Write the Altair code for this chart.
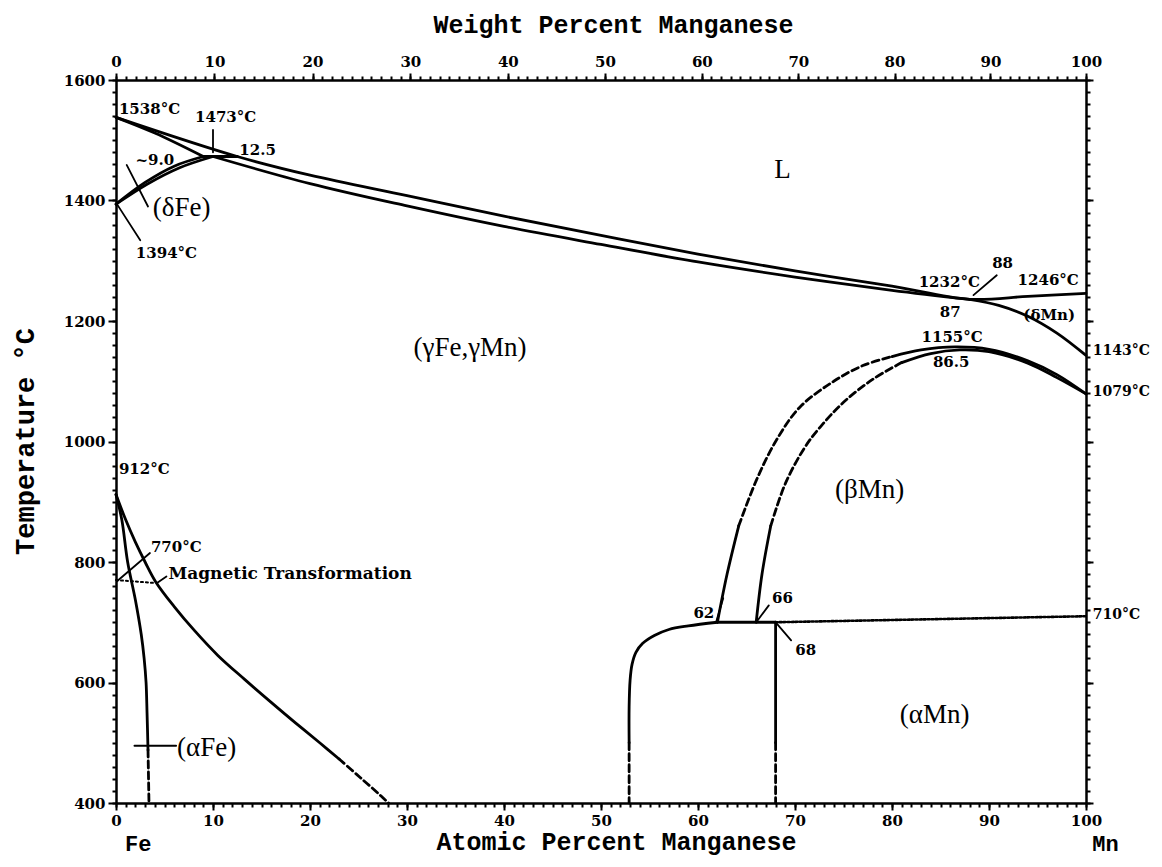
import altair as alt
import pandas as pd

# ---------------- curve data (atomic % Mn, temperature in °C) ----------------
liquidus_x = [0, 12.5, 20, 30, 40, 50, 60, 70, 80, 88, 94, 100]
liquidus_t = [1538, 1473, 1442, 1408, 1374, 1342, 1311, 1283, 1258, 1236, 1241, 1246]
delta_solidus_x = [0, 4, 9]
delta_solidus_t = [1538, 1512, 1473]
gamma_solidus_x = [10, 20, 30, 40, 50, 60, 70, 80, 88]
gamma_solidus_t = [1473, 1428, 1391, 1357, 1327, 1298, 1273, 1251, 1236]
peritectic_x = [9, 12.5]
peritectic_t = [1473, 1473]
delta_side_x = [0, 3, 6, 9]
delta_side_t = [1394, 1430, 1457, 1473]
gamma_side_x = [0, 3.2, 6.5, 10]
gamma_side_t = [1394, 1427, 1454, 1473]
gamma_deltamn_x = [88, 91, 94, 97, 100]
gamma_deltamn_t = [1236, 1226, 1208, 1180, 1143]

# beta-Mn dome
outer_low_x = [62, 63, 64.2]
outer_low_t = [700, 780, 860]
outer_dash_x = [64.2, 66, 68, 70.5, 74, 77, 80]
outer_dash_t = [860, 935, 1000, 1057, 1100, 1126, 1141]
outer_top_x = [80, 83, 86.5, 90, 94, 97, 100]
outer_top_t = [1141, 1152, 1157, 1153, 1134, 1111, 1079]
inner_low_x = [66, 66.6, 67.5]
inner_low_t = [700, 780, 860]
inner_dash_x = [67.5, 69, 71, 72.6, 75, 78, 81]
inner_dash_t = [860, 930, 990, 1024, 1065, 1103, 1131]
inner_top_x = [81, 84, 87, 90, 94, 97, 100]
inner_top_t = [1131, 1146, 1152, 1149, 1130, 1106, 1079]

# alpha-Mn region
amn_bound_x = [62, 59, 57, 55.5, 54.3, 53.6, 53.2, 53.0, 52.9, 52.9]
amn_bound_t = [700, 694, 688, 678, 665, 650, 630, 604, 560, 500]
amn_bound_dash_x = [52.9, 52.9]
amn_bound_dash_t = [500, 400]
eutectoid_x = [62, 68]
eutectoid_t = [700, 700]
wavy_x = [68, 100]
wavy_t = [700, 710]
vert68_x = [68, 68]
vert68_t = [700, 500]
vert68_dash_x = [68, 68]
vert68_dash_t = [500, 400]

# alpha-Fe region
gamma_afe_x = [0, 1, 2, 3, 4.1, 6, 8.1, 10.5, 13.2, 16, 18.5, 21, 23]
gamma_afe_t = [912, 870, 833, 800, 767, 726, 686, 645, 606, 567, 533, 500, 473]
gamma_afe_dash_x = [23, 25.2, 27.3, 28.1]
gamma_afe_dash_t = [473, 442, 412, 400]
alpha_fe_x = [0, 0.6, 1.2, 2.0, 2.6, 2.9, 3.1, 3.2, 3.3]
alpha_fe_t = [912, 870, 800, 737, 680, 640, 600, 550, 488]
alpha_fe_dash_x = [3.3, 3.4]
alpha_fe_dash_t = [488, 400]
magnetic_x = [0, 4.1]
magnetic_t = [770, 765]

# leader lines
leader_segments = {
    "l1473": ([10, 10], [1517, 1480]),
    "ldfe": ([1.1, 3.3], [1459, 1390]),
    "l1394": ([0.1, 2.5], [1394, 1334]),
    "l770": ([0.1, 3.5], [768, 815]),
    "lmag": ([4.3, 5.2], [766, 776]),
    "l88": ([88.4, 90.8], [1243, 1276]),
    "l62": ([61.9, 62.6], [702, 740]),
    "l66": ([66.1, 67.3], [702, 728]),
    "l68": ([68.1, 69.6], [698, 670]),
    "lafe": ([1.9, 6.2], [495, 495]),
}

# ---------------- text labels ----------------
phase_text = ["L", "(γFe,γMn)", "(βMn)", "(αMn)"]
phase_x = [68.7, 36.5, 77.7, 84.4]
phase_t = [1450, 1155, 919, 546]
phase_left_text = ["(δFe)", "(αFe)"]
phase_left_x = [3.8, 6.3]
phase_left_t = [1388, 491]

note_c_text = ["1473°C", "~9.0", "12.5", "1394°C", "1232°C", "88", "1246°C", "87",
               "1155°C", "86.5", "(δMn)", "62", "66", "68"]
note_c_x = [11.3, 4.0, 14.6, 5.2, 85.9, 91.4, 96.1, 86.0, 86.2, 86.1, 96.2, 60.6, 68.7, 71.1]
note_c_t = [1538, 1467, 1484, 1313, 1265, 1296, 1268, 1215, 1173, 1132, 1210, 715, 740, 654]
note_l_text = ["1538°C", "912°C", "770°C"]
note_l_x = [0.3, 0.3, 3.6]
note_l_t = [1552, 955, 825]
right_text = ["1143°C", "1079°C", "710°C"]
right_x = [100.7, 100.7, 100.7]
right_t = [1150, 1082, 712]
mag_text = ["Magnetic Transformation"]
mag_x = [5.4]
mag_t = [780]

end_text = ["Fe", "Mn"]
end_x = [2.3, 102.0]
end_t = [332, 332]

# axis ticks
at_major = list(range(0, 101, 10))
at_minor = list(range(0, 101, 1))
temp_major = list(range(400, 1601, 200))
temp_minor = list(range(400, 1601, 20))
wt_major = list(range(0, 101, 10))
wt_minor = list(range(0, 101, 1))


def wt_to_at(w):
    return 100 * (w / 54.94) / ((w / 54.94) + ((100 - w) / 55.85))


top_major = [wt_to_at(w) for w in wt_major]
top_minor = [wt_to_at(w) for w in wt_minor]

# ---------------- build tables ----------------
segments = [
    ("liq", "solid", liquidus_x, liquidus_t),
    ("dsol", "solid", delta_solidus_x, delta_solidus_t),
    ("gsol", "solid", gamma_solidus_x, gamma_solidus_t),
    ("per", "solid", peritectic_x, peritectic_t),
    ("dside", "solid", delta_side_x, delta_side_t),
    ("gside", "solid", gamma_side_x, gamma_side_t),
    ("gdmn", "solid", gamma_deltamn_x, gamma_deltamn_t),
    ("olow", "solid", outer_low_x, outer_low_t),
    ("odash", "dash", outer_dash_x, outer_dash_t),
    ("otop", "solid", outer_top_x, outer_top_t),
    ("ilow", "solid", inner_low_x, inner_low_t),
    ("idash", "dash", inner_dash_x, inner_dash_t),
    ("itop", "solid", inner_top_x, inner_top_t),
    ("amn", "solid", amn_bound_x, amn_bound_t),
    ("amnd", "dash", amn_bound_dash_x, amn_bound_dash_t),
    ("eut", "solid", eutectoid_x, eutectoid_t),
    ("wavy", "wavy", wavy_x, wavy_t),
    ("v68", "solid", vert68_x, vert68_t),
    ("v68d", "dash", vert68_dash_x, vert68_dash_t),
    ("gafe", "solid", gamma_afe_x, gamma_afe_t),
    ("gafed", "dash", gamma_afe_dash_x, gamma_afe_dash_t),
    ("afe", "solid", alpha_fe_x, alpha_fe_t),
    ("afed", "dash", alpha_fe_dash_x, alpha_fe_dash_t),
    ("mag", "dot", magnetic_x, magnetic_t),
]
for k, (xs, ts) in leader_segments.items():
    segments.append((k, "leader", xs, ts))

rows = []
for name, style, xs, ts in segments:
    for i, (xv, tv) in enumerate(zip(xs, ts)):
        rows.append({"seg": name, "style": style, "x": xv, "t": tv, "o": i})
lines_df = pd.DataFrame(rows)

XS = alt.Scale(domain=[0, 100], nice=False, zero=False)
YS = alt.Scale(domain=[400, 1600], nice=False, zero=False)


def line_layer(style, **mk):
    return alt.Chart(lines_df[lines_df["style"] == style]).mark_line(
        color="black", strokeCap="round", strokeJoin="round", **mk
    ).encode(
        x=alt.X("x:Q", scale=XS, axis=None),
        y=alt.Y("t:Q", scale=YS, axis=None),
        detail="seg:N",
        order="o:Q",
    )


def text_layer(texts, xs, ts, **mk):
    d = pd.DataFrame({"label": texts, "x": xs, "t": ts})
    return alt.Chart(d).mark_text(color="black", **mk).encode(
        x=alt.X("x:Q", scale=XS, axis=None),
        y=alt.Y("t:Q", scale=YS, axis=None),
        text="label:N",
    )


common_axis = dict(
    grid=False, domainColor="black", tickColor="black", labelColor="black",
    titleColor="black", domainWidth=2.5, tickWidth=2,
    labelFont="DejaVu Serif", labelFontWeight="bold", labelFontSize=15,
    labelFlush=False, labelOverlap=False, labelBound=False, format="d",
    titleFont="Liberation Mono", titleFontWeight="bold",
)

dummy = pd.DataFrame({"x": [50], "t": [1000]})


def axis_layer(xaxis, yaxis):
    return alt.Chart(dummy).mark_point(opacity=0).encode(
        x=alt.X("x:Q", scale=XS, axis=xaxis, title=None),
        y=alt.Y("t:Q", scale=YS, axis=yaxis, title=None),
    )


ax_a = axis_layer(
    alt.Axis(orient="bottom", values=at_major, tickSize=7, labelPadding=3,
             title="Atomic Percent Manganese", titleFontSize=25,
             titleX=500, titleY=46, titleBaseline="alphabetic", **common_axis),
    alt.Axis(orient="left", values=temp_major, tickSize=8, labelPadding=3,
             title="Temperature °C", titleFontSize=27, titleAngle=270,
             titleX=-91, titleY=361, titleAlign="center", titleBaseline="middle",
             **common_axis),
)
ax_b = axis_layer(
    alt.Axis(orient="bottom", values=at_minor, tickSize=4, labels=False, domain=False,
             **common_axis),
    alt.Axis(orient="left", values=temp_minor, tickSize=4, labels=False, domain=False,
             **common_axis),
)
ax_c = axis_layer(
    alt.Axis(orient="top", values=top_major, tickSize=7, labelPadding=4,
             labelExpr="format(round(100*54.94*datum.value/(54.94*datum.value+55.85*(100-datum.value))), 'd')",
             title="Weight Percent Manganese", titleFontSize=25,
             titleX=497, titleY=-48, titleBaseline="alphabetic", **common_axis),
    alt.Axis(orient="right", values=temp_major, tickSize=7, labels=False, **common_axis),
)
ax_d = axis_layer(
    alt.Axis(orient="top", values=top_minor, tickSize=4, labels=False, domain=False,
             **common_axis),
    alt.Axis(orient="right", values=temp_minor, tickSize=4, labels=False, domain=False,
             **common_axis),
)

layers = [
    ax_a, ax_b, ax_c, ax_d,
    line_layer("solid", strokeWidth=2.8, interpolate="catmull-rom"),
    line_layer("dash", strokeWidth=2.8, strokeDash=[7, 4], interpolate="catmull-rom"),
    line_layer("wavy", strokeWidth=2.6, strokeDash=[2, 2]),
    line_layer("dot", strokeWidth=2, strokeDash=[2, 3]),
    line_layer("leader", strokeWidth=1.8),
    text_layer(phase_text, phase_x, phase_t, font="Liberation Serif", fontSize=27,
               align="center", baseline="middle"),
    text_layer(phase_left_text, phase_left_x, phase_left_t, font="Liberation Serif",
               fontSize=27, align="left", baseline="middle"),
    text_layer(note_c_text, note_c_x, note_c_t, font="DejaVu Serif", fontWeight="bold",
               fontSize=15, align="center", baseline="middle"),
    text_layer(note_l_text, note_l_x, note_l_t, font="DejaVu Serif", fontWeight="bold",
               fontSize=15, align="left", baseline="middle"),
    text_layer(right_text, right_x, right_t, font="DejaVu Serif", fontWeight="bold",
               fontSize=14, align="left", baseline="middle"),
    text_layer(mag_text, mag_x, mag_t, font="DejaVu Serif", fontWeight="bold",
               fontSize=17, align="left", baseline="middle"),
    text_layer(end_text, end_x, end_t, font="Liberation Mono", fontWeight="bold",
               fontSize=22, align="center", baseline="middle"),
]

chart = alt.layer(*layers).resolve_axis(
    x="independent", y="independent"
).properties(
    width=970, height=723,
    autosize=alt.AutoSizeParams(type="none"),
    padding={"left": 108, "top": 72, "right": 68, "bottom": 56},
    background="white",
).configure_view(stroke="transparent")

chart.save("out.html", embed_options={"renderer": "svg", "actions": False})
